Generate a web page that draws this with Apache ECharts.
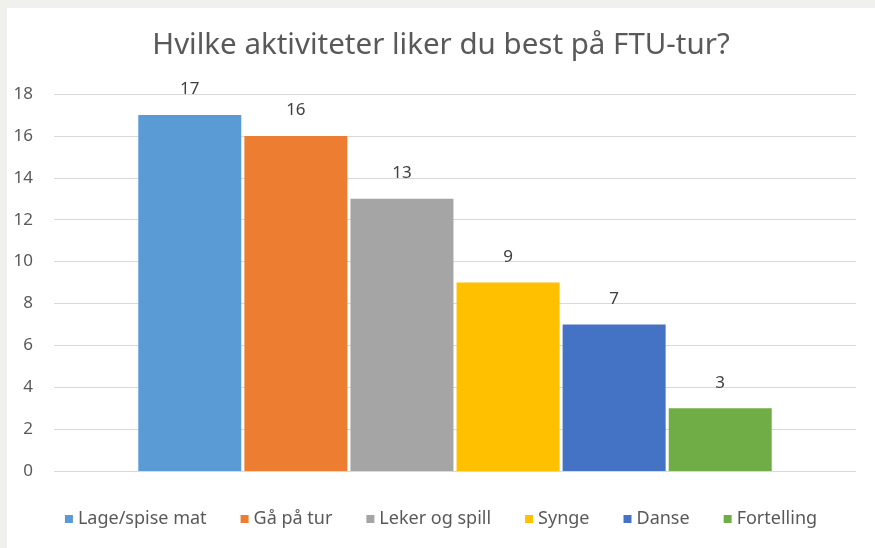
<!DOCTYPE html>
<html>
<head>
<meta charset="utf-8">
<script src="https://cdn.jsdelivr.net/npm/echarts@6/dist/echarts.min.js"></script>
<style>
    html, body { margin: 0; padding: 0; background: #f0f0ec; }
    #main { position: absolute; left: 7px; top: 8px; width: 868px; height: 540px; background: #ffffff; }
</style>
</head>
<body>
<div id="main"></div>
<script>
// data
var titleText = 'Hvilke aktiviteter liker du best på FTU-tur?';
var activities = ['Lage/spise mat', 'Gå på tur', 'Leker og spill', 'Synge', 'Danse', 'Fortelling'];
var votes = [17, 16, 13, 9, 7, 3];
var colors = ['#5b9bd5', '#ed7d31', '#a5a5a5', '#ffc000', '#4472c4', '#70ad47'];

var chart = echarts.init(document.getElementById('main'));

var font = 'Noto Sans';

// one series per activity, all in the same category
var series = activities.map(function (name, i) {
    return {
        name: name,
        type: 'bar',
        data: [votes[i]],
        barWidth: 103,
        barGap: '3%',
        itemStyle: { color: colors[i] },
        label: {
            show: true,
            position: 'top',
            distance: 17,
            color: '#404040',
            fontFamily: font,
            fontSize: 17
        }
    };
});

var option = {
    animation: false,
    title: {
        text: titleText,
        left: 'center',
        top: 18,
        textStyle: {
            fontFamily: font,
            fontSize: 29.5,
            fontWeight: 'normal',
            color: '#595959'
        }
    },
    legend: {
        data: activities,
        bottom: 15,
        left: 'center',
        icon: 'rect',
        itemWidth: 8,
        itemHeight: 8,
        itemGap: 34,
        textStyle: { fontFamily: font, fontSize: 18, color: '#595959' }
    },
    grid: { left: 47, right: 19, top: 86, bottom: 77 },
    xAxis: {
        type: 'category',
        data: [''],
        axisLine: { show: false },
        axisTick: { show: false },
        axisLabel: { show: false }
    },
    yAxis: {
        type: 'value',
        min: 0,
        max: 18,
        interval: 2,
        axisLabel: {
            margin: 21,
            fontFamily: font,
            fontSize: 17,
            color: '#595959'
        },
        splitLine: { lineStyle: { color: '#d9d9d9', width: 1 } }
    },
    series: series
};

chart.setOption(option);
</script>
</body>
</html>
